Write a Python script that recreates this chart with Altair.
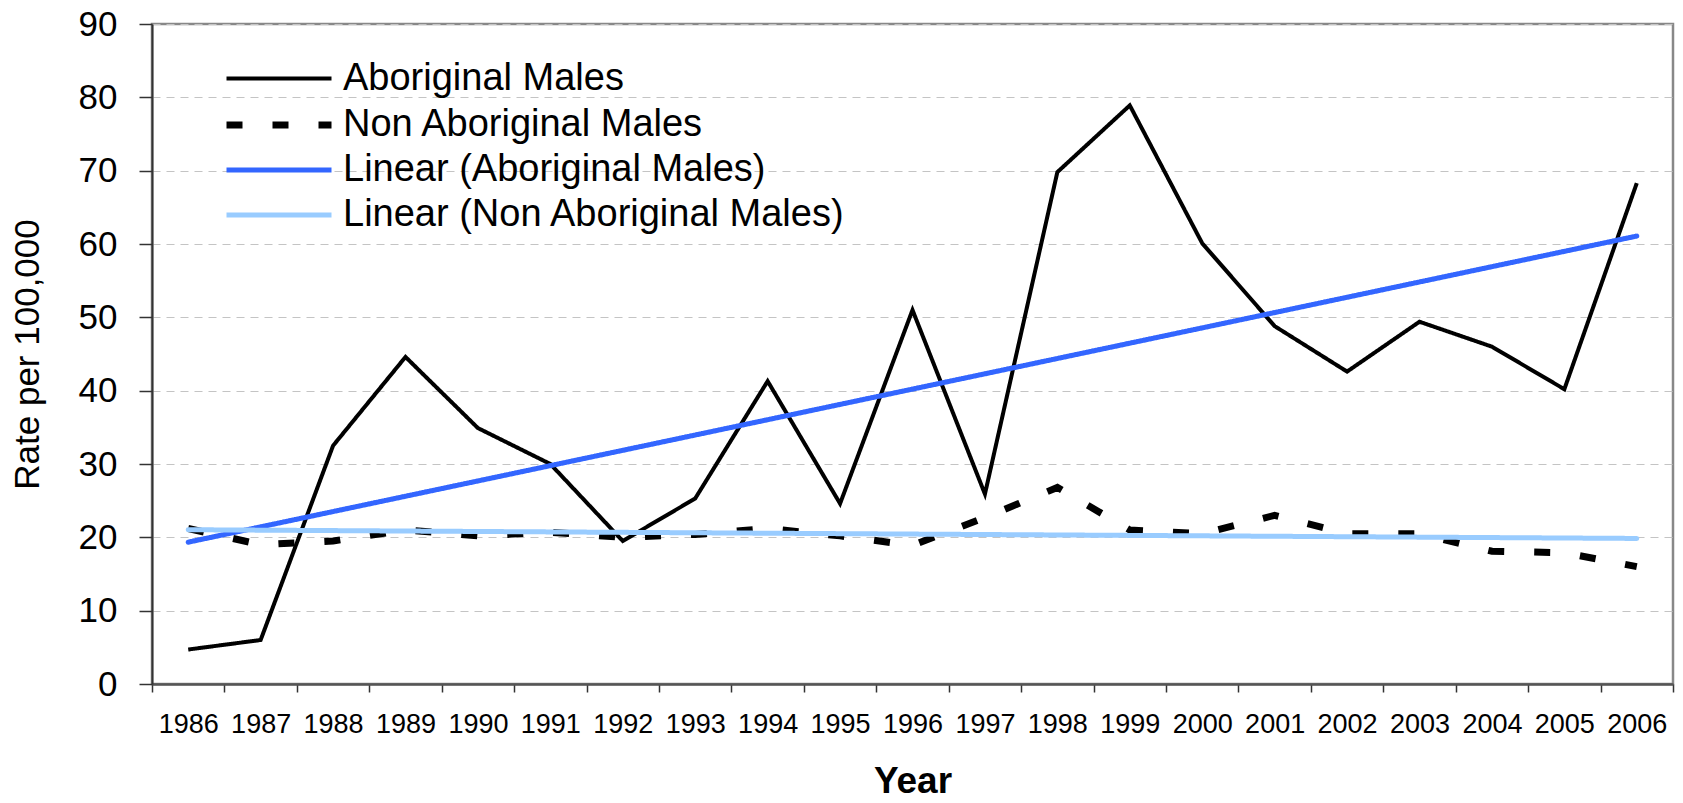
import altair as alt
import pandas as pd

# ---- data ----
years = [1986, 1987, 1988, 1989, 1990, 1991, 1992, 1993, 1994, 1995, 1996,
         1997, 1998, 1999, 2000, 2001, 2002, 2003, 2004, 2005, 2006]
aboriginal_males = [4.7, 6.0, 32.5, 44.6, 34.9, 30.0, 19.5, 25.3, 41.3, 24.6, 51.0,
                    25.9, 69.8, 78.9, 60.1, 48.8, 42.6, 49.4, 46.0, 40.2, 68.3]
non_aboriginal_males = [21.2, 19.0, 19.5, 21.0, 20.2, 20.7, 20.0, 20.4, 21.2, 20.2, 18.9,
                        22.7, 26.8, 21.0, 20.5, 23.0, 20.5, 20.5, 18.1, 17.9, 16.0]

series_names = ["Aboriginal Males", "Non Aboriginal Males"]
legend_labels = ["Aboriginal Males", "Non Aboriginal Males",
                 "Linear (Aboriginal Males)", "Linear (Non Aboriginal Males)"]
line_colors = ["#000000", "#000000", "#3366FF", "#99CCFF"]
line_dashes = [[1, 0], [16, 30], [1, 0], [1, 0]]
line_widths = [4, 7, 5, 5]
y_ticks = [0, 10, 20, 30, 40, 50, 60, 70, 80, 90]

rows = []
for s, vals in zip(series_names, [aboriginal_males, non_aboriginal_males]):
    for yr, v in zip(years, vals):
        rows.append({"yr": yr, "series": s, "value": v})
df = pd.DataFrame(rows)

FONT = "Liberation Sans"

x_enc = alt.X(
    "yr:O",
    scale=alt.Scale(type="band", paddingInner=0, paddingOuter=0),
    axis=alt.Axis(
        title="Year", titleFont=FONT, titleFontSize=37, titleFontWeight="bold",
        titleColor="#000000", titleY=79,
        labelFont=FONT, labelFontSize=27, labelColor="#000000", labelAngle=0,
        labelPadding=19, tickBand="extent", tickSize=8, tickColor="#333333",
        tickWidth=1.5, domainColor="#555555", domainWidth=2.5, grid=False,
    ),
)
y_enc = alt.Y(
    "value:Q",
    scale=alt.Scale(domain=[0, 90], nice=False),
    axis=alt.Axis(
        title="Rate per 100,000", titleFont=FONT, titleFontSize=35,
        titleFontWeight="normal", titleColor="#000000", titleX=-107,
        values=y_ticks, labelFont=FONT, labelFontSize=35, labelColor="#000000",
        labelPadding=22, tickSize=13, tickColor="#333333", tickWidth=1.5,
        domainColor="#333333", domainWidth=2,
        grid=True, gridColor="#c4c4c4", gridDash=[8, 6], gridWidth=1.2,
    ),
)

legend = alt.Legend(
    title=None, orient="none", legendX=106, legendY=35, padding=0,
    symbolType="M-3,0H3", symbolSize=1225, labelOffset=43, labelLimit=2000,
    labelFont=FONT, labelFontSize=38, labelColor="#000000", rowPadding=6,
)

color_enc = alt.Color("label:N", scale=alt.Scale(domain=legend_labels, range=line_colors),
                      legend=legend)
dash_enc = alt.StrokeDash("label:N", scale=alt.Scale(type="ordinal", domain=legend_labels,
                                                     range=line_dashes),
                          legend=legend)
width_enc = alt.StrokeWidth("label:N", scale=alt.Scale(type="ordinal", domain=legend_labels,
                                                       range=line_widths),
                            legend=legend)

base = alt.Chart(df)

data_lines = base.transform_calculate(label="datum.series").mark_line(
    strokeJoin="miter"
).encode(x=x_enc, y=y_enc, color=color_enc, strokeDash=dash_enc, strokeWidth=width_enc,
         detail="series:N")

trend_lines = base.transform_regression(
    "yr", "value", groupby=["series"], method="linear"
).transform_calculate(
    label="'Linear (' + datum.series + ')'"
).mark_line(strokeCap="round").encode(
    x=x_enc, y=y_enc, color=color_enc, strokeDash=dash_enc, strokeWidth=width_enc,
    detail="series:N")

chart = alt.layer(data_lines, trend_lines).properties(
    width=1521, height=660,
    padding={"left": 144, "top": 16, "right": 2, "bottom": 111},
    autosize=alt.AutoSizeParams(type="none"),
    background="#ffffff",
).configure_view(stroke="#888888", strokeWidth=2.5)

chart.save("out.html", embed_options={"renderer": "svg", "actions": False})
